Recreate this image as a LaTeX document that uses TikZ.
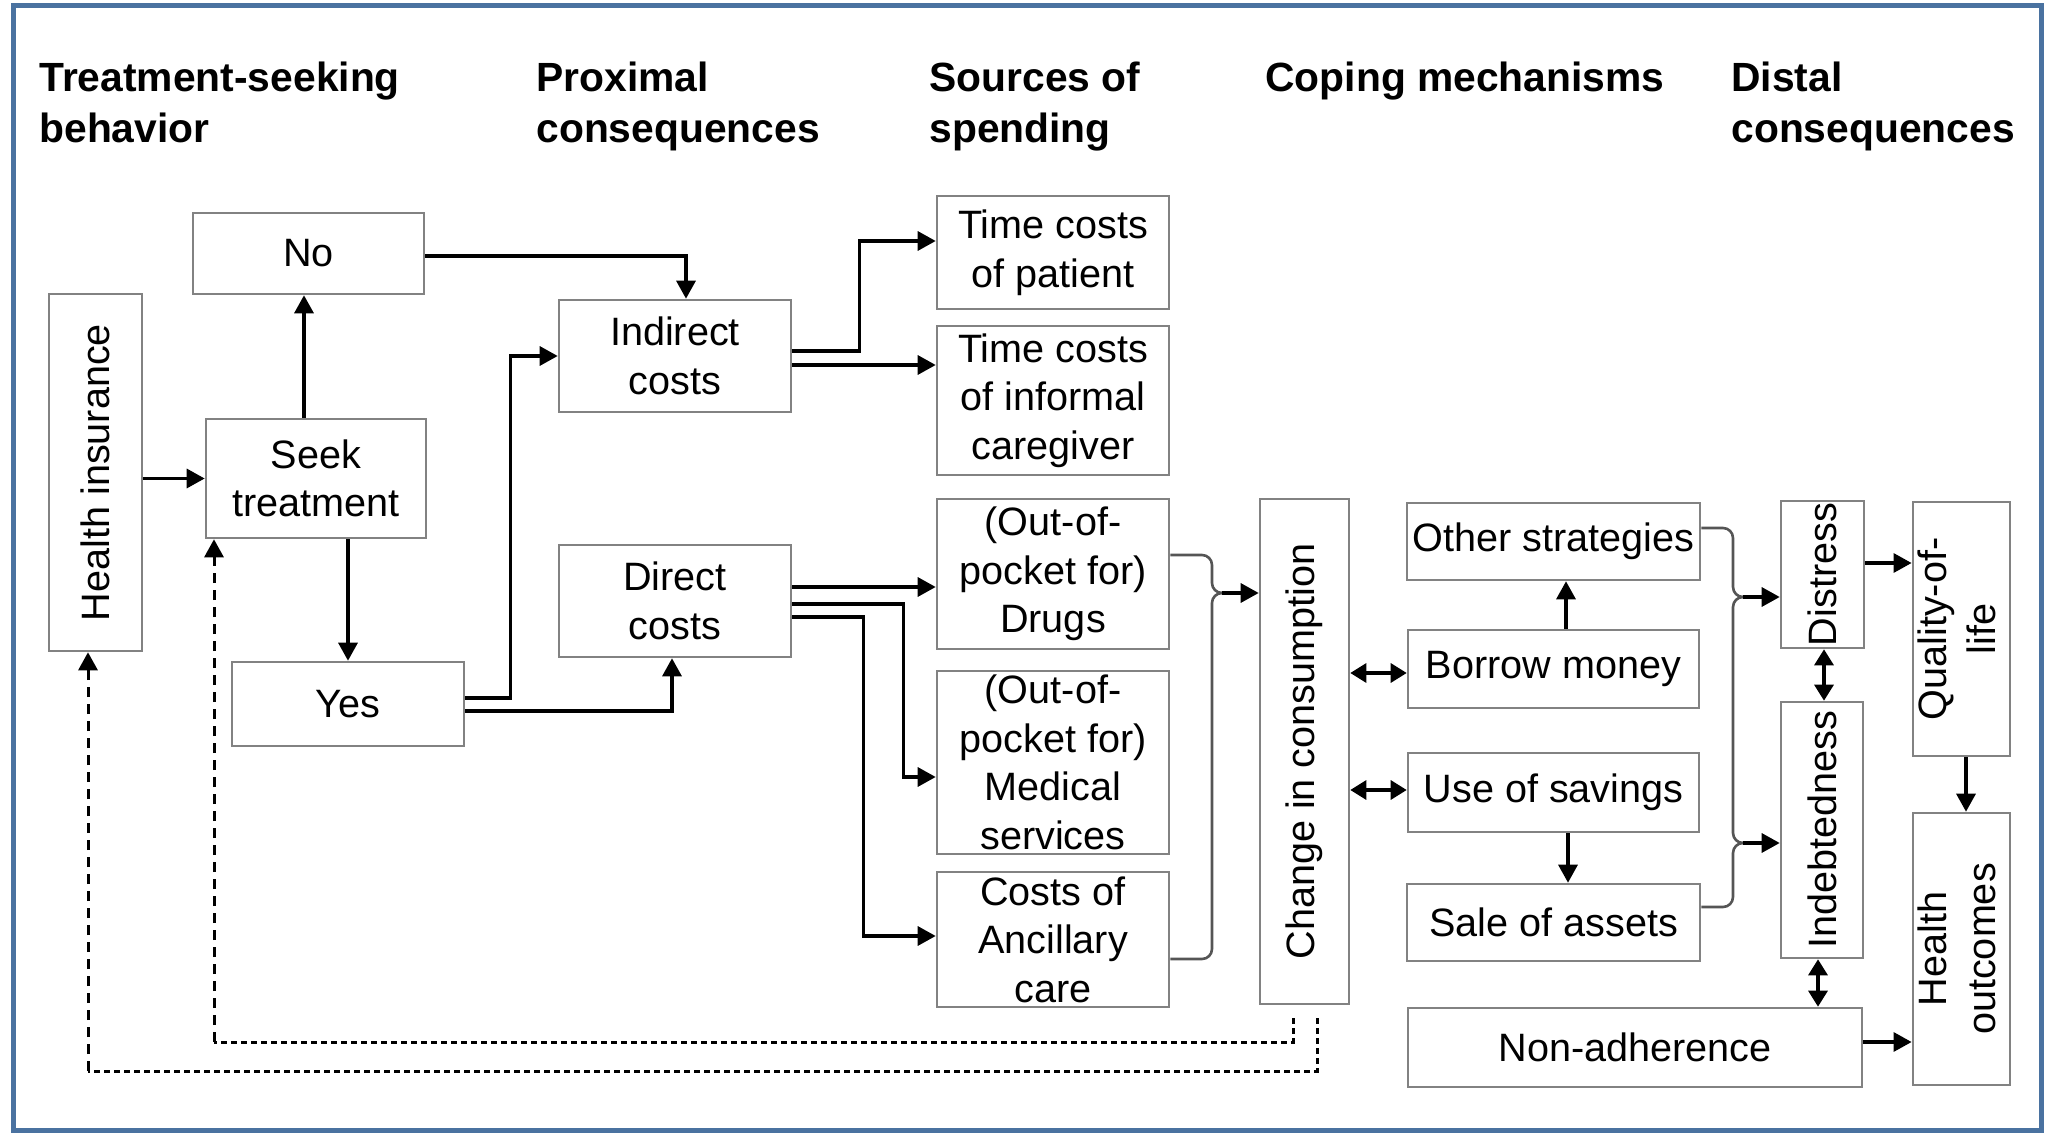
\documentclass[tikz,border=0pt]{standalone}
\usepackage{fontspec}
\setmainfont{Liberation Sans}
\usetikzlibrary{arrows.meta,calc}
\definecolor{frameblue}{RGB}{74,114,160}
\definecolor{boxgray}{RGB}{130,130,130}
\definecolor{bracegray}{RGB}{85,85,85}
\begin{document}
\begin{tikzpicture}[x=0.5pt,y=-0.5pt,
  box/.style={draw=boxgray, line width=1.3pt, inner sep=0pt, align=center,
    font=\fontsize{19.8}{24.3}\selectfont, text=black},
  hdr/.style={anchor=north west, inner sep=0pt, align=left,
    font=\fontsize{20.4}{25.5}\selectfont\bfseries},
  arr/.style={-{Triangle[length=9pt,width=9.5pt]}, line width=1.6pt},
  darr/.style={{Triangle[length=8pt,width=9.5pt]}-{Triangle[length=8pt,width=9.5pt]}, line width=1.6pt},
  brc/.style={draw=bracegray, line width=1.3pt, rounded corners=5pt},
  dl/.style={line width=1.5pt, dash pattern=on 5pt off 3.5pt},
  ds/.style={line width=1.5pt, dash pattern=on 3pt off 2pt},
]
\useasboundingbox (0,0) rectangle (2050,1133);
\draw[frameblue, line width=2.5pt] (13,6) rectangle (2041,1130);

% headers
\node[hdr] (h1) at (39,62) {Treatment-seeking\\behavior};
\node[hdr] (h2) at (536,62) {Proximal\\consequences};
\node[hdr] (h3) at (929,62) {Sources of\\spending};
\node[hdr] (h4) at (1265,62) {Coping mechanisms};
\node[hdr] (h5) at (1731,62) {Distal\\consequences};

% boxes left
\node[box, minimum width=46.5pt, minimum height=178.5pt] (hi) at (95.5,472.5) {\rotatebox{90}{Health insurance}};
\node[box, minimum width=115.5pt, minimum height=40.5pt] (no) at (308.5,253.5) {No};
\node[box, minimum width=110pt, minimum height=59.5pt] (seek) at (316,478.5) {Seek\\treatment};
\node[box, minimum width=116pt, minimum height=42pt] (yes) at (348,704) {Yes};
\node[box, minimum width=116pt, minimum height=56pt] (ind) at (675,356) {Indirect\\costs};
\node[box, minimum width=116pt, minimum height=56pt] (dir) at (675,601) {Direct\\costs};
\node[box, minimum width=116pt, minimum height=56.5pt] (tp) at (1053,252.5) {Time costs\\of patient};
\node[box, minimum width=116pt, minimum height=74.5pt] (ti) at (1053,400.5) {Time costs\\of informal\\caregiver};
\node[box, minimum width=116pt, minimum height=75pt] (drugs) at (1053,574) {(Out-of-\\pocket for)\\Drugs};
\node[box, minimum width=116pt, minimum height=91.5pt] (med) at (1053,762.5) {(Out-of-\\pocket for)\\Medical\\services};
\node[box, minimum width=116pt, minimum height=67.5pt] (anc) at (1053,939.5) {Costs of\\Ancillary\\care};

% boxes right
\node[box, minimum width=44.5pt, minimum height=252.5pt] (chg) at (1304.5,751.5) {\rotatebox{90}{Change in consumption}};
\node[box, minimum width=146.5pt, minimum height=38.5pt] (oth) at (1553.5,541.5) {Other strategies};
\node[box, minimum width=145.5pt, minimum height=39pt] (bor) at (1553.5,669) {Borrow money};
\node[box, minimum width=145.5pt, minimum height=39.5pt] (use) at (1553.5,792.5) {Use of savings};
\node[box, minimum width=146.5pt, minimum height=38.5pt] (sale) at (1553.5,922.5) {Sale of assets};
\node[box, minimum width=227pt, minimum height=39.5pt] (non) at (1635,1047.5) {Non-adherence};
\node[box, minimum width=41.5pt, minimum height=73.5pt] (dis) at (1822.5,574.5) {\rotatebox{90}{Distress}};
\node[box, minimum width=41pt, minimum height=128pt] (indb) at (1822,830) {\rotatebox{90}{Indebtedness}};
\node[box, minimum width=48.5pt, minimum height=127pt] (qol) at (1961.5,629) {\rotatebox{90}{\begin{tabular}{@{}c@{}}Quality-of-\\life\end{tabular}}};
\node[box, minimum width=48.5pt, minimum height=136pt] (ho) at (1961.5,949) {\rotatebox{90}{\begin{tabular}{@{}c@{}}Health\\outcomes\end{tabular}}};

% connectors left
\draw[arr] (hi.east |- seek.west) -- (seek.west);
\draw[arr] ([xshift=-6pt]seek.north) -- ([xshift=-6pt]seek.north |- no.south);
\draw[arr] (seek.south -| yes.north) -- (yes.north);
\draw[arr] ([yshift=-1.25pt]no.east) -| ([xshift=5.5pt]ind.north);
\draw[arr] ([yshift=3pt]yes.east) -| ([xshift=-23.5pt]ind.west) -- (ind.west);
\draw[arr] ([yshift=-3.5pt]yes.east) -| ([xshift=-1.5pt]dir.south);
\draw[arr] ([yshift=2.5pt]ind.east) -| ([xshift=-38pt,yshift=5.75pt]tp.west) -- ([yshift=5.75pt]tp.west);
\draw[arr] ([yshift=-4.5pt]ind.east) -- ([yshift=-4.5pt]ind.east -| ti.west);
\draw[arr] ([yshift=7pt]dir.east) -- ([yshift=7pt]dir.east -| drugs.west);
\draw[arr] ([yshift=-1.5pt]dir.east) -| ([xshift=-16pt,yshift=-7.25pt]med.west) -- ([yshift=-7.25pt]med.west);
\draw[arr] ([yshift=-8pt]dir.east) -| ([xshift=-36pt,yshift=1.75pt]anc.west) -- ([yshift=1.75pt]anc.west);

% left brace
\coordinate (bl) at (1212,593);
\draw[brc] ([yshift=9.5pt]drugs.east) -| (bl) -- ++(14,0);
\draw[brc] ([yshift=-9.75pt]anc.east) -| (bl) -- ++(14,0);
\draw[arr] ([xshift=5pt]bl) -- (bl -| chg.west);

% right brace
\coordinate (br1) at (1733,597);
\coordinate (br2) at (1733,843);
\draw[brc] ([yshift=6.75pt]oth.east) -| (br1) -- ++(14,0);
\draw[brc] ([xshift=7pt]br1) -| (br2) -- ++(14,0);
\draw[brc] ([yshift=7.75pt]sale.east) -| (br2) -- ++(14,0);
\draw[arr] ([xshift=5pt]br1) -- (br1 -| dis.west);
\draw[arr] ([xshift=5pt]br2) -- (br2 -| indb.west);

% connectors right
\draw[darr] ([yshift=-2pt]bor.west -| chg.east) -- ([yshift=-2pt]bor.west);
\draw[darr] ([yshift=1.25pt]use.west -| chg.east) -- ([yshift=1.25pt]use.west);
\draw[arr] ([xshift=6.25pt]bor.north) -- ([xshift=6.25pt]bor.north |- oth.south);
\draw[arr] ([xshift=7.25pt]use.south) -- ([xshift=7.25pt]use.south |- sale.north);
\draw[darr] ([xshift=0.75pt]dis.south) -- ([xshift=0.75pt]dis.south |- indb.north);
\draw[darr] ([xshift=-2pt]indb.south) -- ([xshift=-2pt]indb.south |- non.north);
\draw[arr] ([yshift=5.75pt]dis.east) -- ([yshift=5.75pt]dis.east -| qol.west);
\draw[arr] ([xshift=2.25pt]qol.south) -- ([xshift=2.25pt]qol.south |- ho.north);
\draw[arr] ([yshift=2.75pt]non.east) -- ([yshift=2.75pt]non.east -| ho.west);

% dashed feedback
\coordinate (da) at ([xshift=-5.75pt,yshift=-6.5pt]chg.south);
\coordinate (db) at (1293,1042);
\coordinate (dc) at (214,1042);
\draw[ds] (da) -- (db) -- (dc);
\draw[dl,-{Triangle[length=9pt,width=9.5pt]}] (dc) -- (dc |- seek.south);
\coordinate (ea) at ([xshift=6.25pt,yshift=-6.5pt]chg.south);
\coordinate (eb) at (1317,1071);
\coordinate (ec) at (88,1071);
\draw[ds] (ea) -- (eb) -- (ec);
\draw[dl,-{Triangle[length=9pt,width=9.5pt]}] (ec) -- (ec |- hi.south);
\end{tikzpicture}
\end{document}
